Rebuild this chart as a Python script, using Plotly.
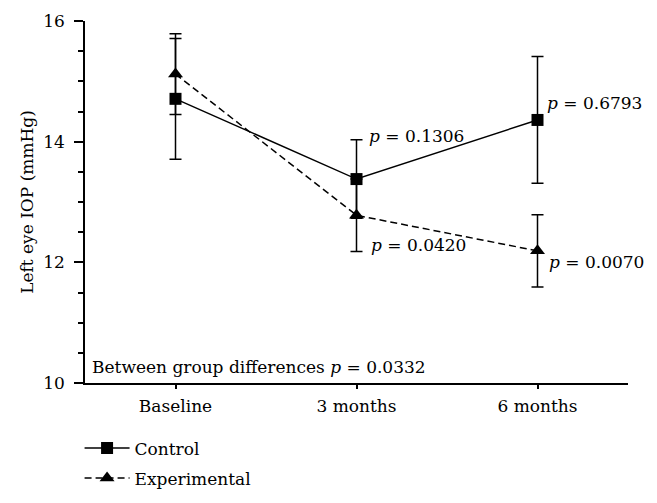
import plotly.graph_objects as go

categories = ["Baseline", "3 months", "6 months"]
x_pos = [0, 1, 2]
control_mean = [14.71, 13.38, 14.36]
control_err = [1.0, 0.65, 1.05]
exp_mean = [15.12, 12.78, 12.19]
exp_err = [0.67, 0.6, 0.6]

p_labels = ["0.1306", "0.0420", "0.6793", "0.0070"]
p_x = [1.06, 1.068, 2.04, 2.055]
p_y = [14.1, 12.28, 14.64, 12.0]
between_p = "0.0332"

FONT = "DejaVu Serif"
FS = 17

fig = go.Figure()
fig.add_trace(go.Scatter(
    x=x_pos, y=exp_mean, name="Experimental", mode="lines+markers",
    line=dict(color="black", width=1.5, dash="7px,4px"),
    marker=dict(symbol="triangle-up", size=13, color="black"),
    error_y=dict(type="data", array=exp_err, color="black", thickness=1.5, width=6),
    legendgroup="e", legendrank=2,
))
fig.add_trace(go.Scatter(
    x=x_pos, y=control_mean, name="Control", mode="lines+markers",
    line=dict(color="black", width=1.5),
    marker=dict(symbol="square", size=12, color="black"),
    error_y=dict(type="data", array=control_err, color="black", thickness=1.5, width=6),
    legendgroup="c", legendrank=1,
))

for lab, xx, yy in zip(p_labels, p_x, p_y):
    fig.add_annotation(x=xx, y=yy, xref="x", yref="y", text="<i>p</i> = " + lab,
                       showarrow=False, xanchor="left", yanchor="middle",
                       font=dict(family=FONT, size=FS, color="black"))
fig.add_annotation(x=-0.472, y=10.27, xref="x", yref="y",
                   text="Between group differences <i>p</i> = " + between_p,
                   showarrow=False, xanchor="left", yanchor="middle",
                   font=dict(family=FONT, size=FS, color="black"))

fig.update_layout(
    width=657, height=503,
    margin=dict(l=77, r=37, t=13, b=128, autoexpand=False),
    paper_bgcolor="white", plot_bgcolor="white",
    font=dict(family=FONT, size=FS, color="black"),
    showlegend=True,
    legend=dict(x=-0.01, y=-0.131, xanchor="left", yanchor="top",
                orientation="v", tracegroupgap=5, itemwidth=45,
                font=dict(family=FONT, size=FS, color="black")),
    xaxis=dict(range=[-0.5, 2.5], tickvals=x_pos, ticktext=categories,
               showline=True, linecolor="black", linewidth=1.5,
               ticks="outside", ticklen=4, tickwidth=1.5, tickcolor="black",
               ticklabelstandoff=3,
               showgrid=False, zeroline=False, automargin=False),
    yaxis=dict(range=[10, 16], dtick=2, tick0=10,
               showline=True, linecolor="black", linewidth=1.5,
               ticks="outside", ticklen=9, tickwidth=1.5, tickcolor="black",
               ticklabelstandoff=6,
               minor=dict(dtick=0.5, ticks="outside", ticklen=5, tickwidth=1.5, tickcolor="black"),
               showgrid=False, zeroline=False, automargin=False,
               title=dict(text="Left eye IOP (mmHg)", standoff=5,
                          font=dict(family=FONT, size=FS))),
)

fig.write_html("out.html")
